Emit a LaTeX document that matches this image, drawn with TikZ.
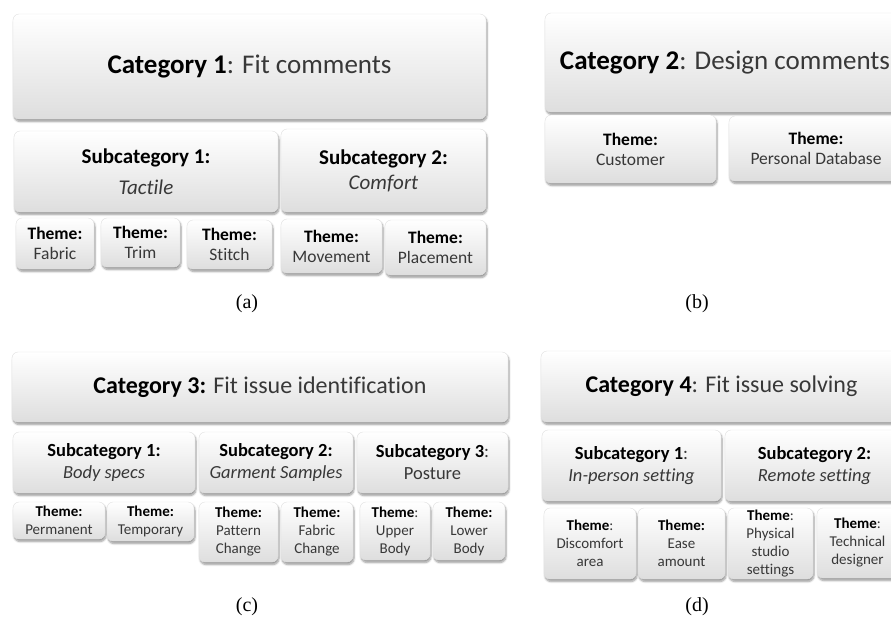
\documentclass[tikz,border=0pt]{standalone}
\usepackage{fontspec}
\setmainfont{Carlito}[Ligatures=NoCommon]
\newfontfamily\capfont{Liberation Serif}
\usetikzlibrary{shadows,shadows.blur}
\newcommand{\hd}[1]{\textcolor{black}{\textbf{#1}}}

\begin{document}
\begin{tikzpicture}[x=1pt,y=-1pt]
		\tikzstyle{box}=[draw=black!12,rounded corners=6pt,top color=white,bottom color=black!13,
			blur shadow={shadow xshift=1pt,shadow yshift=-2.5pt,shadow blur steps=6,shadow opacity=40},
			align=center,inner sep=0pt,text=black!78]
		\tikzstyle{catbig}=[box,font=\fontsize{27}{32}\selectfont]
		\tikzstyle{catsmall}=[box,font=\fontsize{24}{28}\selectfont]
		\tikzstyle{subbig}=[box,font=\fontsize{21}{25}\selectfont]
		\tikzstyle{subsmall}=[box,font=\fontsize{18.5}{22}\selectfont]
		\tikzstyle{themebig}=[box,font=\fontsize{17.5}{20}\selectfont]
		\tikzstyle{themesmall}=[box,font=\fontsize{15}{18}\selectfont]
		\tikzstyle{caption}=[font=\capfont\fontsize{20}{24}\selectfont]

		\useasboundingbox (0,0) rectangle (891,625);
		\clip (0,0) rectangle (891,625);

		% (a)
		\node[catbig,minimum width=473,minimum height=105] (cat1) at (249.5,66.5) {\hd{Category 1}: Fit comments};
		\node[subbig,minimum width=264,minimum height=81] (sub1a) at (146,171.5) {\hd{Subcategory 1:}\\[6pt] \textit{Tactile}};
		\node[subbig,minimum width=205,minimum height=83] (sub2a) at (383.5,170.5) {\hd{Subcategory 2:}\\ \textit{Comfort}};
		\node[themebig,minimum width=78,minimum height=51] (fabric) at (55,243.5) {\hd{Theme:}\\ Fabric};
		\node[themebig,minimum width=79,minimum height=49] (trim) at (140.5,242.5) {\hd{Theme:}\\ Trim};
		\node[themebig,minimum width=85,minimum height=49] (stitch) at (229.5,244.5) {\hd{Theme:}\\ Stitch};
		\node[themebig,minimum width=101,minimum height=54] (movement) at (331.5,246) {\hd{Theme:}\\ Movement};
		\node[themebig,minimum width=101,minimum height=55] (placement) at (435.5,247.5) {\hd{Theme:}\\ Placement};
		\node[caption] (capa) at (247,304) {(a)};

		% (b)
		\node[catbig,minimum width=360,minimum height=99] (cat2) at (725,62.5) {\hd{Category 2}: Design comments};
		\node[themebig,minimum width=171,minimum height=68] (customer) at (630.5,149) {\hd{Theme:}\\ Customer};
		\node[themebig,minimum width=174,minimum height=65] (database) at (816,148.5) {\hd{Theme:}\\ Personal Database};
		\node[caption] (capb) at (697,304) {(b)};

		% (c)
		\node[catsmall,minimum width=496,minimum height=70] (cat3) at (260,387) {\hd{Category 3:} Fit issue identification};
		\node[subsmall,minimum width=182,minimum height=61] (sub1c) at (104,462.5) {\hd{Subcategory 1:}\\ \textit{Body specs}};
		\node[subsmall,minimum width=154,minimum height=61] (sub2c) at (276,462.5) {\hd{Subcategory 2:}\\ \textit{Garment Samples}};
		\node[subsmall,minimum width=151,minimum height=61] (sub3c) at (432.5,462.5) {\hd{Subcategory 3}:\\ Posture};
		\node[themesmall,minimum width=92,minimum height=37] (permanent) at (59,520.5) {\hd{Theme:}\\ Permanent};
		\node[themesmall,minimum width=87,minimum height=39] (temporary) at (150.5,521.5) {\hd{Theme:}\\ Temporary};
		\node[themesmall,minimum width=79,minimum height=60] (pattern) at (238.5,532) {\hd{Theme:}\\ Pattern\\ Change};
		\node[themesmall,minimum width=72,minimum height=60] (fabricchg) at (317,532) {\hd{Theme:}\\ Fabric\\ Change};
		\node[themesmall,minimum width=70,minimum height=58] (upper) at (395,531) {\hd{Theme}:\\ Upper\\ Body};
		\node[themesmall,minimum width=72,minimum height=58] (lower) at (469,531) {\hd{Theme:}\\ Lower\\ Body};
		\node[caption] (capc) at (247,607) {(c)};

		% (d)
		\node[catsmall,minimum width=361,minimum height=71] (cat4) at (721.5,386.5) {\hd{Category 4}: Fit issue solving};
		\node[subsmall,minimum width=179,minimum height=71] (sub1d) at (631.5,465.5) {\hd{Subcategory 1}:\\ \textit{In-person setting}};
		\node[subsmall,minimum width=179,minimum height=71] (sub2d) at (814.5,465.5) {\hd{Subcategory 2:}\\ \textit{Remote setting}};
		\node[themesmall,minimum width=92,minimum height=71] (discomfort) at (590,543.5) {\hd{Theme}:\\ Discomfort\\ area};
		\node[themesmall,minimum width=87,minimum height=71] (ease) at (681.5,543.5) {\hd{Theme:}\\ Ease\\ amount};
		\node[themesmall,minimum width=85,minimum height=71] (physical) at (770.5,543.5) {\hd{Theme}:\\ Physical\\ studio\\ settings};
		\node[themesmall,minimum width=81,minimum height=70] (technical) at (857.5,543) {\hd{Theme}:\\ Technical\\ designer};
		\node[caption] (capd) at (697,607) {(d)};
	\end{tikzpicture}
\end{document}
